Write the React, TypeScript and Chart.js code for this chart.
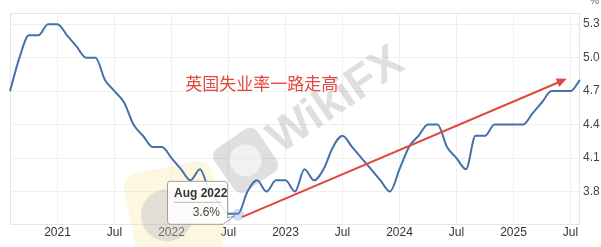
import React, { useEffect, useRef } from 'react';
import { Chart, registerables } from 'chart.js';

Chart.register(...registerables);

// ---- data ----
const months = [
  'Aug 2020', 'Sep 2020', 'Oct 2020', 'Nov 2020', 'Dec 2020',
  'Jan 2021', 'Feb 2021', 'Mar 2021', 'Apr 2021', 'May 2021', 'Jun 2021', 'Jul 2021', 'Aug 2021', 'Sep 2021', 'Oct 2021', 'Nov 2021', 'Dec 2021',
  'Jan 2022', 'Feb 2022', 'Mar 2022', 'Apr 2022', 'May 2022', 'Jun 2022', 'Jul 2022', 'Aug 2022', 'Sep 2022', 'Oct 2022', 'Nov 2022', 'Dec 2022',
  'Jan 2023', 'Feb 2023', 'Mar 2023', 'Apr 2023', 'May 2023', 'Jun 2023', 'Jul 2023', 'Aug 2023', 'Sep 2023', 'Oct 2023', 'Nov 2023', 'Dec 2023',
  'Jan 2024', 'Feb 2024', 'Mar 2024', 'Apr 2024', 'May 2024', 'Jun 2024', 'Jul 2024', 'Aug 2024', 'Sep 2024', 'Oct 2024', 'Nov 2024', 'Dec 2024',
  'Jan 2025', 'Feb 2025', 'Mar 2025', 'Apr 2025', 'May 2025', 'Jun 2025', 'Jul 2025', 'Aug 2025',
];
const rate2020 = [4.7, 5.0, 5.2, 5.2, 5.3];
const rate2021 = [5.3, 5.2, 5.1, 5.0, 5.0, 4.8, 4.7, 4.6, 4.4, 4.3, 4.2, 4.2];
const rate2022 = [4.1, 4.0, 3.9, 4.0, 3.8, 3.7, 3.6, 3.6, 3.8, 3.9, 3.8, 3.9];
const rate2023 = [3.9, 3.8, 4.0, 3.9, 4.0, 4.2, 4.3, 4.2, 4.1, 4.0, 3.9, 3.8];
const rate2024 = [4.0, 4.2, 4.3, 4.4, 4.4, 4.2, 4.1, 4.0, 4.3, 4.3, 4.4, 4.4];
const rate2025 = [4.4, 4.4, 4.5, 4.6, 4.7, 4.7, 4.7, 4.8];
const rates = [...rate2020, ...rate2021, ...rate2022, ...rate2023, ...rate2024, ...rate2025];

const yTicks = [3.8, 4.1, 4.4, 4.7, 5.0, 5.3];
const yMin = 3.5;
const yMax = 5.4;
const unitLabel = '%';

// annotations (data coordinates: x = month index, y = rate)
const highlightIndex = 24; // Aug 2022
const noteText = '英国失业率一路走高';
const notePos = { x: 18.45, y: 4.765 };
const arrowFrom = { x: 24.4, y: 3.57 };
const arrowTo = { x: 58.6, y: 4.81 };
const watermarkText = 'WikiFX';

const FONT = '"Liberation Sans", Arial, sans-serif';

const overlayPlugin = {
  id: 'overlay',
  beforeDatasetsDraw(chart: any) {
    const { ctx, chartArea } = chart;
    ctx.save();
    // plot frame
    ctx.strokeStyle = '#e6e6e6';
    ctx.lineWidth = 1;
    ctx.strokeRect(chartArea.left + 0.5, chartArea.top + 0.5, chartArea.right - chartArea.left - 1, chartArea.bottom - chartArea.top - 1);

    // watermark (approximation)
    const xs = chart.scales.x;
    const ys = chart.scales.y;
    // yellow logo tile
    ctx.save();
    ctx.translate(xs.getPixelForValue(17.3), ys.getPixelForValue(3.62));
    ctx.rotate(-0.2);
    ctx.fillStyle = 'rgba(250, 228, 160, 0.32)';
    ctx.beginPath();
    (ctx as any).roundRect(-45, -45, 90, 90, 14);
    ctx.fill();
    ctx.fillStyle = 'rgba(110, 120, 170, 0.18)';
    ctx.beginPath();
    ctx.arc(-8, 2, 26, 0, Math.PI * 2);
    ctx.fill();
    ctx.restore();
    // gray logo + text
    ctx.save();
    ctx.translate(xs.getPixelForValue(24.8), ys.getPixelForValue(4.08));
    ctx.rotate(-0.6);
    ctx.fillStyle = 'rgba(120, 120, 120, 0.24)';
    ctx.beginPath();
    (ctx as any).roundRect(-26, -26, 52, 52, 9);
    ctx.fill();
    ctx.fillStyle = 'rgba(255, 255, 255, 0.55)';
    ctx.beginPath();
    ctx.arc(0, 0, 16, 0, Math.PI * 2);
    ctx.fill();
    ctx.fillStyle = 'rgba(120, 120, 120, 0.24)';
    ctx.font = `bold 46px ${FONT}`;
    ctx.textBaseline = 'middle';
    ctx.textAlign = 'left';
    ctx.fillText(watermarkText, 32, 2);
    ctx.restore();
    ctx.restore();
  },
  afterDatasetsDraw(chart: any) {
    const { ctx, chartArea } = chart;
    const xs = chart.scales.x;
    const ys = chart.scales.y;
    ctx.save();

    // unit label
    ctx.fillStyle = '#666';
    ctx.font = `10px ${FONT}`;
    ctx.textAlign = 'left';
    ctx.textBaseline = 'middle';
    ctx.fillText(unitLabel, chartArea.right + 10, 1);

    // red arrow
    const x1 = xs.getPixelForValue(arrowFrom.x);
    const y1 = ys.getPixelForValue(arrowFrom.y);
    const x2 = xs.getPixelForValue(arrowTo.x);
    const y2 = ys.getPixelForValue(arrowTo.y);
    const ang = Math.atan2(y2 - y1, x2 - x1);
    const headLen = 10;
    const headW = 4.5;
    ctx.strokeStyle = '#e2473d';
    ctx.fillStyle = '#e2473d';
    ctx.lineWidth = 2;
    ctx.beginPath();
    ctx.moveTo(x1, y1);
    ctx.lineTo(x2 - Math.cos(ang) * headLen * 0.8, y2 - Math.sin(ang) * headLen * 0.8);
    ctx.stroke();
    ctx.beginPath();
    ctx.moveTo(x2, y2);
    ctx.lineTo(x2 - Math.cos(ang) * headLen + Math.sin(ang) * headW, y2 - Math.sin(ang) * headLen - Math.cos(ang) * headW);
    ctx.lineTo(x2 - Math.cos(ang) * headLen - Math.sin(ang) * headW, y2 - Math.sin(ang) * headLen + Math.cos(ang) * headW);
    ctx.closePath();
    ctx.fill();

    // note text
    ctx.fillStyle = '#e5483f';
    ctx.font = '17px "Noto Sans CJK SC", sans-serif';
    ctx.textAlign = 'left';
    ctx.textBaseline = 'middle';
    ctx.fillText(noteText, xs.getPixelForValue(notePos.x), ys.getPixelForValue(notePos.y));

    // highlighted point + tooltip
    const px = xs.getPixelForValue(highlightIndex);
    const py = ys.getPixelForValue(rates[highlightIndex]);
    ctx.fillStyle = 'rgba(90, 150, 210, 0.3)';
    ctx.beginPath();
    ctx.arc(px, py + 1, 6, 0, Math.PI * 2);
    ctx.fill();

    const bw = 60;
    const bh = 43;
    const bx = px - 11 - bw;
    const by = py - 33;
    ctx.fillStyle = 'rgba(255, 255, 255, 0.88)';
    ctx.strokeStyle = '#a0a0a0';
    ctx.lineWidth = 1;
    ctx.beginPath();
    ctx.moveTo(bx + 3, by + 0.5);
    ctx.lineTo(bx + bw - 3, by + 0.5);
    ctx.quadraticCurveTo(bx + bw + 0.5, by + 0.5, bx + bw + 0.5, by + 3);
    ctx.lineTo(bx + bw + 0.5, by + bh - 6);
    ctx.lineTo(px - 3, py + 2);
    ctx.lineTo(bx + bw - 4, by + bh + 0.5);
    ctx.lineTo(bx + 3, by + bh + 0.5);
    ctx.quadraticCurveTo(bx + 0.5, by + bh + 0.5, bx + 0.5, by + bh - 3);
    ctx.lineTo(bx + 0.5, by + 3);
    ctx.quadraticCurveTo(bx + 0.5, by + 0.5, bx + 3, by + 0.5);
    ctx.closePath();
    ctx.fill();
    ctx.stroke();

    ctx.fillStyle = '#333';
    ctx.font = `bold 12px ${FONT}`;
    ctx.textAlign = 'left';
    ctx.textBaseline = 'middle';
    ctx.fillText(months[highlightIndex], bx + 7, by + 13);
    ctx.strokeStyle = '#bbb';
    ctx.beginPath();
    ctx.moveTo(bx + 7, by + 21.5);
    ctx.lineTo(bx + bw - 6, by + 21.5);
    ctx.stroke();
    ctx.font = `12px ${FONT}`;
    ctx.textAlign = 'right';
    ctx.fillStyle = '#444';
    ctx.fillText(`${rates[highlightIndex]}%`, bx + bw - 7, by + 32);

    ctx.restore();
  },
};

export default function App() {
  const canvasRef = useRef<HTMLCanvasElement | null>(null);

  useEffect(() => {
    if (!canvasRef.current) return;
    const chart = new Chart(canvasRef.current, {
      type: 'line',
      data: {
        labels: months,
        datasets: [
          {
            data: rates,
            borderColor: '#4471a8',
            borderWidth: 2,
            pointRadius: 0,
            pointHoverRadius: 0,
            fill: false,
            cubicInterpolationMode: 'monotone',
          },
        ],
      },
      options: {
        responsive: false,
        animation: false,
        events: [],
        layout: { padding: { left: 10, top: 13, right: 0, bottom: 0 } },
        plugins: {
          legend: { display: false },
          tooltip: { enabled: false },
          title: { display: false },
        },
        scales: {
          x: {
            type: 'category',
            offset: false,
            border: { display: false },
            grid: { color: '#efefef', drawTicks: false, lineWidth: 1 },
            ticks: {
              autoSkip: false,
              maxRotation: 0,
              padding: 0,
              color: '#333',
              font: { size: 12, family: FONT },
              callback: (v: any) => {
                const m = months[v as number];
                return m.startsWith('Jan') ? m.slice(4) : m.slice(0, 3);
              },
            },
            afterBuildTicks: (scale: any) => {
              scale.ticks = scale.ticks.filter((t: any) => /^(Jan|Jul)/.test(months[t.value]));
            },
            afterFit: (scale: any) => {
              scale.height = 22;
            },
          },
          y: {
            position: 'right',
            min: yMin,
            max: yMax,
            border: { display: false },
            grid: { color: '#efefef', drawTicks: false, lineWidth: 1 },
            ticks: {
              padding: 3,
              color: '#444',
              font: { size: 12, family: FONT },
              callback: (v: any) => Number(v).toFixed(1),
            },
            afterBuildTicks: (scale: any) => {
              scale.ticks = yTicks.map((v) => ({ value: v }));
            },
            afterFit: (scale: any) => {
              scale.width = 21;
            },
          },
        },
      },
      plugins: [overlayPlugin],
    });
    return () => chart.destroy();
  }, []);

  return (
    <div style={{ position: 'absolute', left: 0, top: 0, width: 601, height: 247, background: '#fff' }}>
      <canvas ref={canvasRef} width={601} height={247} style={{ display: 'block' }} />
    </div>
  );
}
